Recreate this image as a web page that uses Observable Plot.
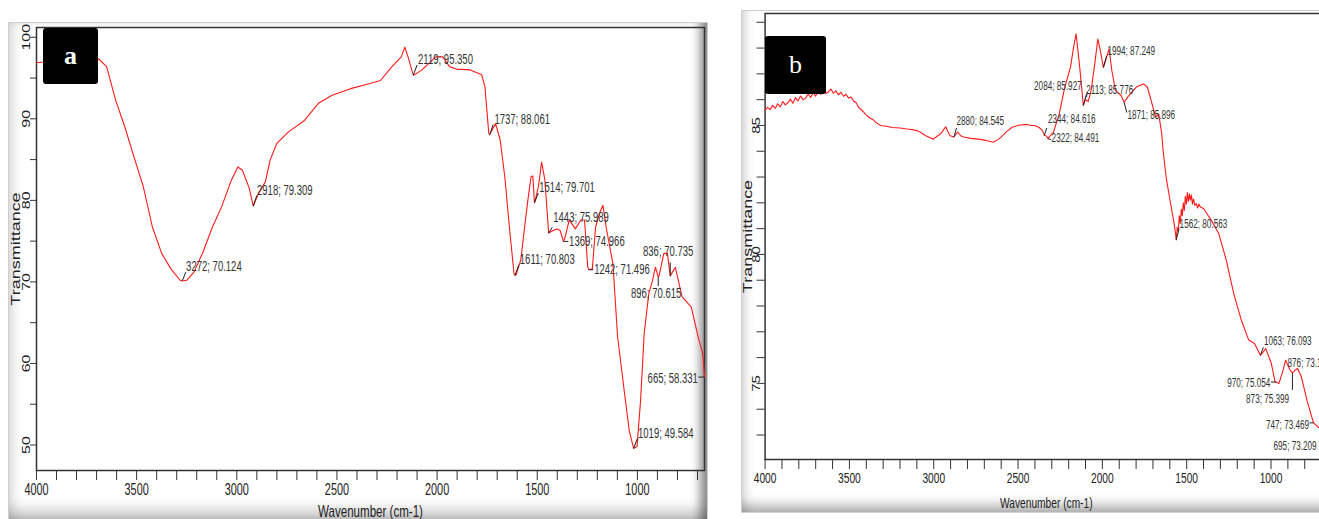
<!DOCTYPE html>
<html><head><meta charset="utf-8">
<script src="https://cdn.jsdelivr.net/npm/d3@7"></script>
<script src="https://cdn.jsdelivr.net/npm/@observablehq/plot@0.6"></script>
<style>
html,body{margin:0;padding:0;background:#fff;width:1319px;height:519px;overflow:hidden;position:relative;font-family:"Liberation Sans",Arial,sans-serif;}
.frame{position:absolute;background:#fff;box-sizing:border-box;}
#frameA{left:8px;top:22px;width:700px;height:497px;border:1px solid #cfcfcf;border-bottom:none;
  box-shadow: inset 12px 0 12px -8px rgba(0,0,0,.15), inset -12px 0 10px -5px rgba(0,0,0,.45), inset 0 -16px 14px -8px rgba(0,0,0,.25);}
#frameB{left:741px;top:10px;width:600px;height:503px;border:1px solid #cfcfcf;
  box-shadow: inset 10px 0 10px -6px rgba(0,0,0,.15), inset 0 -14px 12px -7px rgba(0,0,0,.32);}
.panel{position:absolute;top:0;}
#panelA{left:0;width:712px;height:519px;}
#panelB{left:730px;width:589px;height:519px;overflow:hidden;}
.tag{position:absolute;background:#000;color:#fff;border-radius:3px;font-family:"Liberation Serif","Times New Roman",serif;font-size:26px;display:flex;align-items:center;justify-content:center;}
</style></head><body>
<div class="frame" id="frameA"></div>
<div class="frame" id="frameB"></div>
<div class="panel" id="panelA"></div>
<div class="panel" id="panelB"></div>
<div class="tag" style="left:43px;top:28px;width:55px;height:56px;font-weight:bold;">a</div>
<div class="tag" style="left:765px;top:36px;width:61px;height:58px;">b</div>
<script>
// ---------- Panel a: spectrum ----------
const wnA = [4000,3900,3800,3720,3692,3650,3605,3559,3513,3467,3421,3375,3329,3283,3272,3250,3214,3168,3122,3076,3030,2995,2972,2938,2918,2892,2857,2834,2800,2742,2662,2593,2524,2432,2340,2283,2225,2179,2161,2145,2119,2100,2076,2041,2007,1972,1938,1903,1834,1777,1761,1742,1737,1731,1708,1685,1662,1639,1616,1611,1605,1582,1559,1547,1531,1522,1514,1508,1494,1478,1462,1443,1421,1400,1386,1369,1363,1340,1310,1282,1264,1248,1242,1225,1209,1190,1172,1156,1122,1099,1064,1041,1019,1002,984,966,943,926,910,896,892,868,850,836,811,777,731,697,674,665];
const tA  = [96.9,97.0,97.1,97.3,97.4,96.4,92.3,89.0,85.3,81.7,76.7,73.5,71.6,70.2,70.12,70.2,71.2,73.7,76.7,79.2,82.3,84.1,83.7,81.5,79.31,80.8,82.3,84.9,87.0,88.4,89.8,91.9,92.9,93.7,94.3,94.7,96.4,97.6,98.8,97.6,95.35,95.6,96.0,96.8,97.6,97.6,96.4,96.1,96.0,95.4,93.9,88.2,88.06,88.4,89.4,87.4,82.9,76.7,71.0,70.8,70.9,72.7,77.6,80.0,82.9,83.0,79.7,80.2,81.7,84.7,82.5,75.99,76.3,76.5,76.3,74.97,75.3,77.6,76.5,77.6,77.6,71.8,71.5,71.6,76.7,78.4,79.4,76.7,72.2,63.3,56.3,51.8,49.58,49.8,55.5,63.7,68.6,70.0,71.8,70.62,70.7,73.5,73.5,70.74,71.8,68.2,66.9,63.3,61.2,58.33];
// peak annotations panel a
const peakWnA  = [3272,2918,2119,1737,1611,1514,1443,1369,1242,896,836,1019,665];
const peakTA   = [70.124,79.309,95.350,88.061,70.803,79.701,75.989,74.966,71.496,70.615,70.735,49.584,58.331];
const labelWnA = [3253,2899,2095,1714,1587,1490,1420,1341,1216,1032,972,997,698];
const labelTA  = [71.9,81.2,97.3,89.9,72.8,81.6,77.9,75.0,71.5,68.6,73.7,51.4,58.2];
const labelEndA = [false,false,false,false,false,false,false,false,false,false,false,false,true];
const ptrWnA   = [3255,2900,2100,1720,1592,1495,1425,1345,1220,896,836,1000,695];
const ptrTA    = [71.2,80.6,96.6,89.3,72.1,80.9,76.7,74.97,71.5,69.5,72.4,50.8,58.33];

// ---------- Panel b: spectrum ----------
const wnB = [4000,3985,3970,3955,3940,3925,3910,3895,3880,3865,3850,3835,3820,3805,3790,3775,3760,3745,3730,3715,3700,3685,3670,3655,3640,3625,3610,3595,3580,3565,3550,3535,3520,3505,3490,3475,3460,3445,3425,3400,3380,3359,3340,3314,3280,3247,3200,3158,3120,3091,3070,3047,3020,3002,2980,2958,2940,2929,2915,2902,2880,2870,2858,2840,2824,2780,2735,2690,2646,2620,2601,2570,2535,2490,2446,2420,2401,2375,2356,2344,2334,2322,2310,2290,2256,2223,2189,2174,2156,2138,2123,2113,2100,2084,2067,2045,2027,2012,1994,1978,1960,1944,1922,1889,1871,1850,1833,1800,1780,1756,1733,1711,1684,1666,1648,1640,1622,1599,1577,1570,1562,1556,1550,1544,1538,1532,1526,1520,1514,1508,1502,1496,1490,1484,1478,1472,1466,1460,1452,1443,1435,1428,1420,1399,1354,1310,1265,1221,1176,1132,1098,1063,1031,998,976,970,953,931,913,900,887,873,860,842,820,787,753,747,720,695,665];
const tB  = [85.58,85.70,85.61,85.78,85.66,85.84,85.72,85.93,85.80,85.88,86.02,85.86,86.08,85.95,86.14,86.00,86.06,86.22,86.09,86.27,86.14,86.33,86.20,86.38,86.24,86.30,86.41,86.25,86.34,86.19,86.29,86.13,86.21,86.06,86.10,85.95,85.88,85.70,85.58,85.4,85.3,85.22,85.1,85.0,84.97,84.92,84.9,84.86,84.83,84.78,84.7,84.6,84.52,84.47,84.58,84.68,84.85,84.95,84.75,84.6,84.55,84.65,84.74,84.6,84.55,84.5,84.47,84.42,84.35,84.45,84.55,84.75,84.93,85.02,85.04,85.0,85.0,84.92,84.81,84.62,84.6,84.49,84.6,84.74,85.45,86.48,87.26,87.9,88.55,87.5,86.48,85.78,86.0,85.93,86.35,87.39,88.35,87.9,87.25,87.58,87.97,87.13,86.35,86.16,85.9,86.1,86.23,86.48,86.55,86.61,86.48,85.97,85.32,85.45,84.68,84.03,83.0,82.1,81.3,81.0,80.56,81.05,80.9,81.5,81.2,81.75,81.5,82.0,81.7,82.25,81.95,82.4,82.05,82.35,82.1,82.3,81.95,82.15,81.9,81.97,81.8,81.95,81.85,81.77,81.32,80.81,79.77,78.48,77.45,76.68,76.55,76.09,76.35,75.77,75.06,75.05,75.0,75.45,75.9,75.7,75.52,75.4,75.5,75.58,75.26,74.35,73.58,73.47,73.3,73.21,72.9];
// peak annotations panel b
const peakWnB  = [1994,2084,2113,2880,2344,2322,1871,1562,1063,876,970,873,747,695];
const peakTB   = [87.249,85.927,85.776,84.545,84.616,84.491,85.896,80.563,76.093,73.196,75.054,75.399,73.469,73.209];
const labelWnB = [1970,2405,2096,2865,2323,2301,1851,1542,1042,902,1004,1148,774,985];
const labelTB  = [87.88,86.52,86.38,85.17,85.23,84.50,85.39,81.16,76.64,75.80,75.01,74.38,73.40,72.57];
const labelEndB = [false,false,false,false,false,false,false,false,false,false,true,false,true,false];
const ptrFromWnB = [1994,2094,2113,2880,2344,2322,1871,1562,1063,873,970,747];
const ptrFromTB  = [87.249,86.1,85.776,84.545,84.616,84.491,85.896,80.563,76.093,75.399,75.054,73.469];
const ptrToWnB   = [1975,2090,2095,2865,2330,2305,1855,1545,1045,873,1000,772];
const ptrToTB    = [87.7,86.3,86.2,84.9,84.9,84.45,85.5,81.0,76.4,74.75,75.054,73.469];

// ticks
const xTicksA = d3.range(700, 4001, 100);
const xTicksB = d3.range(700, 4001, 100);
const yTicksA = [50,55,60,65,70,75,80,85,90,95,100];
const yTicksB = [73,74,75,76,77,78,79,80,81,82,83,84,85,86,87,88,89];

const xTitle = "Wavenumber (cm-1)";
const yTitle = "Transmittance";

const fmt = (w, t) => `${w}; ${t.toFixed(3)}`;
const specA = wnA.map((w, i) => ({wn: w, t: tA[i]}));
const specB = wnB.map((w, i) => ({wn: w, t: tB[i]}));
const labA = peakWnA.map((w, i) => ({lx: labelWnA[i], ly: labelTA[i], text: fmt(w, peakTA[i]), end: labelEndA[i]}));
const labB = peakWnB.map((w, i) => ({lx: labelWnB[i], ly: labelTB[i], text: fmt(w, peakTB[i]), end: labelEndB[i]}));
const ptrA = peakWnA.map((w, i) => ({x1: w, y1: peakTA[i], x2: ptrWnA[i], y2: ptrTA[i]}));
const ptrB = ptrFromWnB.map((w, i) => ({x1: w, y1: ptrFromTB[i], x2: ptrToWnB[i], y2: ptrToTB[i]}));

function squish(svg, k) {
  svg.querySelectorAll("text").forEach(t => {
    const tr = (t.getAttribute("transform") || "");
    const ptr = (t.parentNode.getAttribute && t.parentNode.getAttribute("transform")) || "";
    if (tr.includes("rotate")) {
      t.setAttribute("transform", tr + ` scale(1,${k})`);
    } else if (ptr.includes("rotate")) {
      // leave
    } else {
      const L = t.getComputedTextLength();
      if (L > 0) { t.setAttribute("textLength", L * k); t.setAttribute("lengthAdjust", "spacingAndGlyphs"); }
    }
  });
}

const common = {style: "background: transparent; overflow: visible; max-width: none; color: #222; font-family: 'Liberation Sans', Arial, sans-serif;"};

const plotA = Plot.plot({
  ...common,
  width: 712, height: 519,
  marginLeft: 36, marginRight: 8, marginTop: 27, marginBottom: 49,
  x: {domain: [4000, 665]},
  y: {domain: [46.87, 101.2]},
  marks: [
    Plot.axisX({ticks: xTicksA, tickSize: 10, tickPadding: 3, fontSize: 16, tickFormat: d => d % 500 === 0 ? String(d) : "", label: null, stroke: "#333"}),
    Plot.axisY({ticks: yTicksA, tickSize: 6, tickPadding: 1, fontSize: 16, tickRotate: -90, tickFormat: d => d % 10 === 0 ? String(d) : "", label: null, stroke: "#333"}),
    Plot.frame({stroke: "#333", strokeWidth: 1.5}),
    Plot.line(specA, {x: "wn", y: "t", stroke: "#ff1a1a", strokeWidth: 1.1}),
    Plot.link(ptrA, {x1: "x1", y1: "y1", x2: "x2", y2: "y2", stroke: "#222", strokeWidth: 1}),
    Plot.text(labA.filter(d => !d.end), {x: "lx", y: "ly", text: "text", textAnchor: "start", fontSize: 14, fill: "#333"}),
    Plot.text(labA.filter(d => d.end), {x: "lx", y: "ly", text: "text", textAnchor: "end", fontSize: 14, fill: "#333"}),
    Plot.text([yTitle], {frameAnchor: "left", dx: -20.5, rotate: -90, textAnchor: "middle", lineAnchor: "middle", fontSize: 18, fill: "#222"}),
    Plot.text([xTitle], {frameAnchor: "bottom", dy: 41, textAnchor: "middle", lineAnchor: "middle", fontSize: 17, fill: "#222"})
  ]
});
document.getElementById("panelA").appendChild(plotA);
squish(plotA, 0.68);

const plotB = Plot.plot({
  ...common,
  width: 600, height: 519,
  marginLeft: 34.6, marginRight: 3, marginTop: 13, marginBottom: 60,
  x: {domain: [4000, 665]},
  y: {domain: [72.05, 89.34]},
  marks: [
    Plot.axisX({ticks: xTicksB, tickSize: 10, tickPadding: 3, fontSize: 15, tickFormat: d => d % 500 === 0 ? String(d) : "", label: null, stroke: "#333"}),
    Plot.axisY({ticks: yTicksB, tickSize: 8, tickPadding: -3, fontSize: 15, tickRotate: -90, tickFormat: d => d % 5 === 0 ? String(d) : "", label: null, stroke: "#333"}),
    Plot.frame({stroke: "#333", strokeWidth: 1.5}),
    Plot.line(specB, {x: "wn", y: "t", stroke: "#ff1a1a", strokeWidth: 1.1}),
    Plot.link(ptrB, {x1: "x1", y1: "y1", x2: "x2", y2: "y2", stroke: "#222", strokeWidth: 1}),
    Plot.text(labB.filter(d => !d.end), {x: "lx", y: "ly", text: "text", textAnchor: "start", fontSize: 12, fill: "#333"}),
    Plot.text(labB.filter(d => d.end), {x: "lx", y: "ly", text: "text", textAnchor: "end", fontSize: 12, fill: "#333"}),
    Plot.text([yTitle], {frameAnchor: "left", dx: -17, rotate: -90, textAnchor: "middle", lineAnchor: "middle", fontSize: 18, fill: "#222"}),
    Plot.text([xTitle], {frameAnchor: "bottom", dy: 44, textAnchor: "middle", lineAnchor: "middle", fontSize: 15, fill: "#222"})
  ]
});
document.getElementById("panelB").appendChild(plotB);
squish(plotB, 0.68);
</script>
</body></html>
